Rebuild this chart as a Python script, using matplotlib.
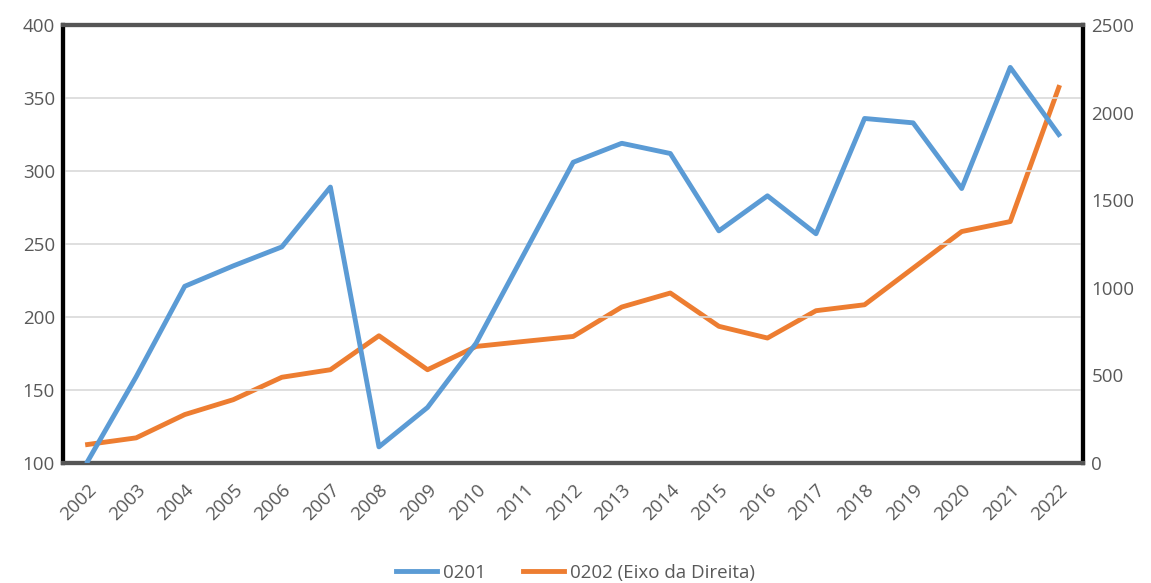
import matplotlib.pyplot as plt
import numpy as np

years = [str(y) for y in range(2002, 2023)]
s0201 = [101, 159, 221, 235, 248, 289, 111, 138, 182, 244, 306,
         319, 312, 259, 283, 257, 336, 333, 288, 371, 325]
s0202 = [105, 143, 276, 361, 489, 532, 726, 532, 665, 694, 722,
         890, 970, 780, 713, 869, 903, 1112, 1321, 1378, 2144]

plt.rcParams['font.family'] = ['Open Sans', 'DejaVu Sans']

fig = plt.figure(figsize=(11.51, 5.83), dpi=100)
ax = fig.add_axes([0.055, 0.206, 0.886, 0.751])
ax2 = ax.twinx()

x = np.arange(len(years))
l1, = ax.plot(x, s0201, color='#5b9bd5', lw=3.5, solid_joinstyle='round', zorder=3)
l2, = ax2.plot(x, s0202, color='#ed7d31', lw=3.5, solid_joinstyle='round', zorder=3)

ax.set_xlim(-0.5, len(years) - 0.5)
ax.set_ylim(100, 400)
ax.set_yticks(range(100, 401, 50))
ax2.set_ylim(0, 2500)
ax2.set_yticks(range(0, 2501, 500))

ax.grid(axis='y', color='#d9d9d9', lw=1.2)
ax.set_axisbelow(True)
ax.set_zorder(ax2.get_zorder() + 1)
ax.patch.set_visible(False)
ax2.set_zorder(0)

ax.set_xticks(x)
ax.set_xticklabels(years, rotation=45, ha='right', rotation_mode='anchor')

for a in (ax, ax2):
    a.tick_params(length=0, labelsize=13.5, labelcolor='#595959', pad=6)
    for side in ('left', 'right'):
        a.spines[side].set_color('black')
        a.spines[side].set_linewidth(3)
    for side in ('top', 'bottom'):
        a.spines[side].set_color('#555555')
        a.spines[side].set_linewidth(3)
ax.tick_params(axis='x', pad=13)

fig.legend([l1, l2], ['0201', '0202 (Eixo da Direita)'], loc='center',
           bbox_to_anchor=(0.5, 0.018), ncol=2, frameon=False,
           fontsize=13.5, labelcolor='#595959', handlelength=2.2,
           columnspacing=2.0, handletextpad=0.3)

fig.savefig('out.png', dpi=100)
